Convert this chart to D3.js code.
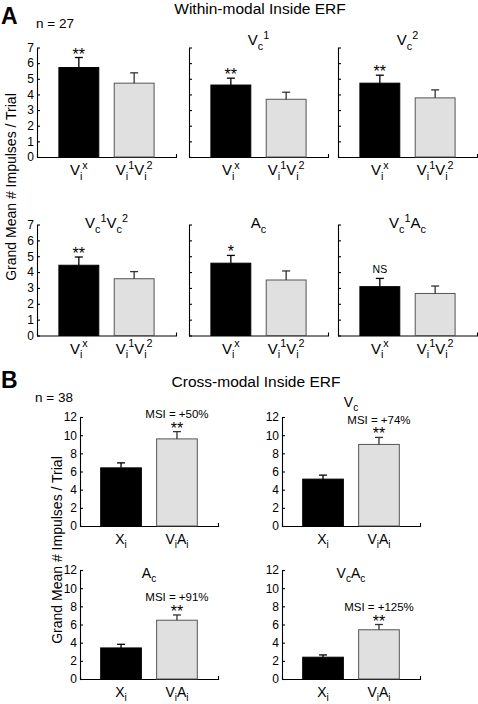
<!DOCTYPE html>
<html><head><meta charset="utf-8">
<script src="https://cdn.jsdelivr.net/npm/d3@7"></script>
<style>body{margin:0;background:#fff} svg{display:block;font-family:"Liberation Sans",Arial,sans-serif}</style>
</head><body><svg id="c" width="478" height="704"></svg>
<script>
// ---- Panel A data (within-modal, n = 27) ----
const aCategories = ["V_i^x", "V_i^1V_i^2"];
const aTitles = ["", "V_c^1", "V_c^2", "V_c^1V_c^2", "A_c", "V_c^1A_c"];
const aMeansX  = [5.72, 4.60, 4.72, 4.43, 4.56, 3.08];
const aSemX    = [0.64, 0.44, 0.51, 0.52, 0.49, 0.52];
const aMeansVV = [4.72, 3.69, 3.78, 3.58, 3.50, 2.65];
const aSemVV   = [0.66, 0.45, 0.51, 0.45, 0.57, 0.47];
const aSig     = ["**", "**", "**", "**", "*", "NS"];
const aTicks   = [0, 1, 2, 3, 4, 5, 6, 7];

// ---- Panel B data (cross-modal, n = 38) ----
const bCategories = ["X_i", "V_iA_i"];
const bTitles  = ["", "V_c", "A_c", "V_cA_c"];
const bMeansX  = [6.40, 5.16, 3.42, 2.40];
const bSemX    = [0.55, 0.44, 0.40, 0.25];
const bMeansVA = [9.59, 8.98, 6.47, 5.42];
const bSemVA   = [0.80, 0.77, 0.58, 0.58];
const bMSI     = ["MSI = +50%", "MSI = +74%", "MSI = +91%", "MSI = +125%"];
const bSig     = ["**", "**", "**", "**"];
const bTicks   = [0, 2, 4, 6, 8, 10, 12];

const svg = d3.select("#c");

function rich(textSel, str, size) {
  const segs = [];
  for (let i = 0; i < str.length; ) {
    const ch = str[i];
    if (ch === "_" || ch === "^") { segs.push({t: str[i + 1], k: ch}); i += 2; }
    else { segs.push({t: ch, k: ""}); i++; }
  }
  let cur = 0;
  segs.forEach(s => {
    const target = s.k === "_" ? size * 0.32 : s.k === "^" ? -size * 0.42 : 0;
    textSel.append("tspan").attr("dy", target - cur)
      .attr("font-size", s.k ? size * 0.72 : size).text(s.t);
    cur = target;
  });
}

function drawPlot(o) {
  const g = svg.append("g");
  const x = d3.scaleBand().domain(o.cats).range([o.x0, o.x0 + o.w])
    .paddingInner(o.pin).paddingOuter(o.pout);
  const y = d3.scaleLinear().domain([0, o.max]).range([o.yBot, o.yTop]);

  // y axis
  const ya = g.append("g").attr("transform", `translate(${o.x0},0)`)
    .call(d3.axisLeft(y).tickValues(o.ticks).tickSizeInner(-3).tickSizeOuter(0).tickPadding(3)
      .tickFormat(o.tickLabels ? d3.format("d") : () => ""));
  ya.selectAll("text").attr("font-size", 12).attr("font-family", "Liberation Sans, Arial, sans-serif").attr("fill", "#000");
  ya.selectAll("path,line").attr("stroke", "#000").attr("stroke-width", 1.1);

  // x axis
  const xa = g.append("g").attr("transform", `translate(0,${o.yBot})`)
    .call(d3.axisBottom(x).tickSizeInner(0).tickSizeOuter(-3).tickFormat(() => ""));
  xa.selectAll("path,line").attr("stroke", "#000").attr("stroke-width", 1.1);

  // bars
  const vals = [o.m1, o.m2], sems = [o.s1, o.s2];
  o.cats.forEach((c, i) => {
    const top = y(vals[i]);
    g.append("rect").attr("x", x(c)).attr("y", top)
      .attr("width", x.bandwidth()).attr("height", o.yBot - top)
      .attr("fill", i === 0 ? "#000" : "#e0e0e0")
      .attr("stroke", i === 0 ? "#000" : "#555").attr("stroke-width", 1);
    const cx = x(c) + x.bandwidth() / 2, et = y(vals[i] + sems[i]);
    g.append("line").attr("x1", cx).attr("x2", cx).attr("y1", top).attr("y2", et)
      .attr("stroke", i === 0 ? "#000" : "#333").attr("stroke-width", 1.3);
    g.append("line").attr("x1", cx - 4).attr("x2", cx + 4).attr("y1", et).attr("y2", et)
      .attr("stroke", i === 0 ? "#000" : "#333").attr("stroke-width", 1.3);
    const t = g.append("text").attr("x", cx).attr("y", o.yBot + o.labDy)
      .attr("text-anchor", "middle").attr("font-size", o.labSize);
    rich(t, c, o.labSize);
  });

  // significance
  const si = o.sigOn;
  const scx = x(o.cats[si]) + x.bandwidth() / 2;
  const errTop = y(vals[si] + sems[si]);
  if (o.sig === "NS") {
    g.append("text").attr("x", scx).attr("y", errTop - 5).attr("text-anchor", "middle")
      .attr("font-size", 10.5).text("NS");
  } else {
    g.append("text").attr("x", scx).attr("y", errTop + 2).attr("text-anchor", "middle")
      .attr("font-size", 16).text(o.sig);
  }
  if (o.msi) {
    g.append("text").attr("x", scx).attr("y", errTop - 13.5).attr("text-anchor", "middle")
      .attr("font-size", 11.5).text(o.msi);
  }
  if (o.title) {
    const t = g.append("text").attr("x", o.x0 + o.w / 2).attr("y", o.titleY)
      .attr("text-anchor", "middle").attr("font-size", o.titleSize);
    rich(t, o.title, o.titleSize);
  }
}

// ---- Panel A layout ----
const aCols = [37, 189, 338];
const aRows = [{yTop: 47.5, yBot: 157, titleY: 45}, {yTop: 224.5, yBot: 335.5, titleY: 228}];
aTitles.forEach((tt, k) => {
  const r = aRows[Math.floor(k / 3)];
  drawPlot({x0: aCols[k % 3], w: 139, yTop: r.yTop, yBot: r.yBot, max: 7, ticks: aTicks,
    tickLabels: k % 3 === 0,
    cats: aCategories, pin: 0.279, pout: 0.396, m1: aMeansX[k], s1: aSemX[k], m2: aMeansVV[k], s2: aSemVV[k],
    sig: aSig[k], sigOn: 0, title: tt, titleY: r.titleY, titleSize: 15, labSize: 15, labDy: 18});
});

// ---- Panel B layout ----
const bCols = [80, 282];
const bRows = [{yTop: 417, yBot: 526, titleY: 407}, {yTop: 570, yBot: 679, titleY: 578}];
bTitles.forEach((tt, k) => {
  const r = bRows[Math.floor(k / 2)];
  drawPlot({x0: bCols[k % 2], w: 138, yTop: r.yTop, yBot: r.yBot, max: 12, ticks: bTicks,
    tickLabels: true,
    cats: bCategories, pin: 0.273, pout: 0.37, m1: bMeansX[k], s1: bSemX[k], m2: bMeansVA[k], s2: bSemVA[k],
    sig: bSig[k], sigOn: 1, msi: bMSI[k], title: tt, titleY: r.titleY, titleSize: 14, labSize: 14, labDy: 18});
});

// ---- Headings ----
function txt(x, y, s, size, opts = {}) {
  const t = svg.append("text").attr("x", x).attr("y", y).attr("font-size", size).text(s);
  if (opts.anchor) t.attr("text-anchor", opts.anchor);
  if (opts.bold) t.attr("font-weight", "bold");
  if (opts.rot) t.attr("transform", `rotate(-90,${x},${y})`);
  return t;
}
txt(1, 24, "A", 23, {bold: true});
txt(1, 388, "B", 23, {bold: true});
txt(260, 14, "Within-modal Inside ERF", 15.5, {anchor: "middle"});
txt(256, 387, "Cross-modal Inside ERF", 15.5, {anchor: "middle"});
txt(36, 28, "n = 27", 13.5);
txt(35, 402, "n = 38", 13.5);
txt(16, 187, "Grand Mean # Impulses / Trial", 14, {anchor: "middle", rot: true});
txt(62, 550, "Grand Mean # Impulses / Trial", 14, {anchor: "middle", rot: true});
</script></body></html>
